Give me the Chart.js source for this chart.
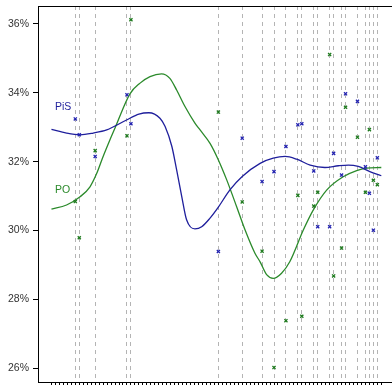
<!DOCTYPE html>
<html><head><meta charset="utf-8">
<script src="https://cdn.jsdelivr.net/npm/chart.js@4/dist/chart.umd.min.js"></script>
<style>html,body{margin:0;padding:0;background:#fff}</style>
</head><body>
<canvas id="c" width="392" height="385"></canvas>
<script>
// Poll dates (day index) and values (%)
const pollDays = [5,6,10,18,19,41,47,52,55,58,61,62,65,66,69,70,72,73,76,78,79,80,81];
const pisPolls = [33.24,32.78,32.15,33.94,33.10,29.39,32.68,31.42,31.71,32.44,33.07,33.10,31.73,30.11,30.11,32.24,31.61,33.97,33.75,31.85,31.08,30.01,32.11];
const poPolls  = [30.84,29.79,32.32,32.75,36.12,33.44,30.83,29.40,26.02,27.38,31.02,27.51,30.71,31.11,35.11,28.68,29.49,33.58,32.71,31.11,32.93,31.46,31.33];

// Smoothed trend lines
const pisTrendDays = [-1,2.8,6.2,9.5,12.9,17.9,21,23.5,26.3,27.6,29.3,30.5,31.8,33.0,35.1,36.8,38.9,41.0,43.9,47.0,51.5,54.8,57.8,60.7,64.1,67.8,71.2,73.7,76.2,79.1,82];
const pisTrend = [32.94,32.83,32.78,32.83,32.92,33.21,33.38,33.42,33.26,33.02,32.44,31.76,30.98,30.31,30.05,30.11,30.36,30.68,31.18,31.57,31.95,32.10,32.15,32.07,31.90,31.83,31.88,31.90,31.86,31.71,31.59];
const poTrendDays = [-1,2.8,6.2,8.7,10.4,12,13.7,15,18.75,21.3,23.8,26.7,28.8,30.5,32.6,35.1,36.4,38.9,41,43.1,45.6,47.7,50.2,51.5,53.2,54.8,56.9,59,62.4,64.9,68.3,72.4,75.8,78.3,82];
const poTrend = [30.62,30.74,30.98,31.27,31.66,32.15,32.63,32.98,33.97,34.28,34.47,34.55,34.42,34.08,33.60,33.12,32.92,32.53,32.05,31.47,30.69,30.02,29.34,29.09,28.71,28.61,28.76,29.10,30.02,30.60,31.18,31.56,31.74,31.81,31.83];

// Axis ticks
const dayTicks = []; for (let d = -1; d <= 82; d++) dayTicks.push(d);
const yTicks = [26,28,30,32,34,36];
const partyLabels = ['PiS','PO'];

const BLUE_LINE = '#1f1f9c', GREEN_LINE = '#2b8a2b';
const BLUE_PT = '#2323b0', GREEN_PT = '#1e7a1e';
const FONT = '"Liberation Sans", Arial, Helvetica, sans-serif';

const pts = (xs, ys) => xs.map((x, i) => ({x, y: ys[i]}));

const deco = {
  id: 'deco',
  afterDraw(chart) {
    const {ctx, chartArea: a, scales} = chart;
    ctx.save();
    ctx.strokeStyle = '#000'; ctx.lineWidth = 1;
    ctx.beginPath();
    ctx.moveTo(a.left, Math.round(a.top) + 0.5);
    ctx.lineTo(a.right, Math.round(a.top) + 0.5);
    ctx.stroke();
    ctx.font = '10.5px ' + FONT;
    ctx.textAlign = 'left'; ctx.textBaseline = 'alphabetic';
    ctx.fillStyle = BLUE_LINE;
    ctx.fillText(partyLabels[0], scales.x.getPixelForValue(-0.1), scales.y.getPixelForValue(33.5));
    ctx.fillStyle = GREEN_LINE;
    ctx.fillText(partyLabels[1], scales.x.getPixelForValue(-0.1), scales.y.getPixelForValue(31.09));
    ctx.restore();
  }
};

new Chart(document.getElementById('c'), {
  type: 'line',
  data: {
    datasets: [
      {data: pts(pollDays, pisPolls), showLine: false, pointStyle: 'crossRot', pointRadius: 2.2, pointBorderWidth: 1.3, borderColor: BLUE_PT, backgroundColor: BLUE_PT},
      {data: pts(pollDays, poPolls), showLine: false, pointStyle: 'crossRot', pointRadius: 2.2, pointBorderWidth: 1.3, borderColor: GREEN_PT, backgroundColor: GREEN_PT},
      {data: pts(pisTrendDays, pisTrend), borderColor: BLUE_LINE, borderWidth: 1.3, pointRadius: 0, cubicInterpolationMode: 'monotone', fill: false},
      {data: pts(poTrendDays, poTrend), borderColor: GREEN_LINE, borderWidth: 1.3, pointRadius: 0, cubicInterpolationMode: 'monotone', fill: false}
    ]
  },
  options: {
    responsive: false,
    animation: false,
    layout: {autoPadding: false, padding: {top: 6, left: 0, right: 0, bottom: 0}},
    plugins: {legend: {display: false}, tooltip: {enabled: false}},
    scales: {
      x: {
        type: 'linear', min: -4.386, max: 84.69, position: 'bottom',
        afterBuildTicks: s => { s.ticks = dayTicks.map(v => ({value: v})); },
        afterFit: s => { s.paddingLeft = 0; s.paddingRight = 0; },
        ticks: {display: false},
        grid: {drawOnChartArea: false, drawTicks: true, tickLength: 3, color: '#000', lineWidth: 1},
        border: {display: true, color: '#000', width: 1}
      },
      xPolls: {
        type: 'linear', min: -4.386, max: 84.69, position: 'bottom',
        afterBuildTicks: s => { s.ticks = pollDays.map(v => ({value: v})); },
        afterFit: s => { s.height = 0; s.paddingLeft = 0; s.paddingRight = 0; },
        ticks: {display: false},
        grid: {drawOnChartArea: true, drawTicks: false, color: '#b4b4b4', lineWidth: 1},
        border: {display: false, dash: [4, 4]}
      },
      y: {
        type: 'linear', min: 25.6, max: 36.52, position: 'left',
        afterBuildTicks: s => { s.ticks = yTicks.map(v => ({value: v})); },
        afterFit: s => { s.width = 38; s.paddingTop = 0; s.paddingBottom = 0; },
        ticks: {callback: v => v + '%', color: '#333', font: {family: FONT, size: 10.5}, padding: 4},
        grid: {drawOnChartArea: false, drawTicks: true, tickLength: 5, color: '#000'},
        border: {display: true, color: '#000', width: 1}
      }
    }
  },
  plugins: [deco]
});
</script>
</body></html>
